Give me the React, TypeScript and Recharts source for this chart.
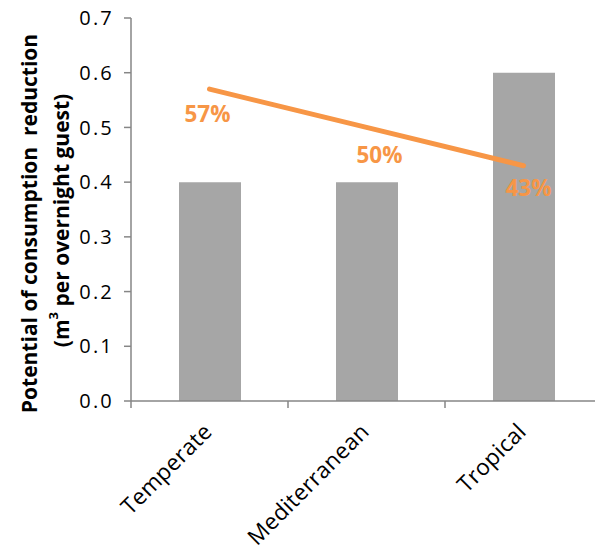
import React from 'react';
import { ComposedChart, Bar, Line, XAxis, YAxis, LabelList } from 'recharts';

const categories = ['Temperate', 'Mediterranean', 'Tropical'];
const potentialValues = [0.4, 0.4, 0.6];
const reductionShares = [0.57, 0.5, 0.43];
const shareLabels = ['57%', '50%', '43%'];
const yTicks = [0, 0.1, 0.2, 0.3, 0.4, 0.5, 0.6, 0.7];
const yTitleLine1 = 'Potential of consumption  reduction';
const yTitleLine2a = '(m';
const yTitleLine2b = '3';
const yTitleLine2c = ' per overnight guest)';

const data = categories.map((name, i) => ({
  name,
  potential: potentialValues[i],
  share: reductionShares[i],
  label: shareLabels[i],
}));

// style constants
const AXIS = '#868686';
const BAR = '#A6A6A6';
const ORANGE = '#F79646';
const FONT = '"Open Sans", sans-serif';
const labelOffsets = [
  [-2, 24],
  [13, 27],
  [5, 22],
];

const XTick = (props: any) => {
  const { x, y, payload, index, visibleTicksCount } = props;
  const off = payload && payload.offset ? payload.offset : 0;
  const isLast = index === (visibleTicksCount ?? 3) - 1;
  const tx = x + 4;
  const ty = y + 32;
  return (
    <g>
      <line x1={x - off} y1={y} x2={x - off} y2={y + 7} stroke={AXIS} strokeWidth={1.5} />
      {isLast && <line x1={x + off} y1={y} x2={x + off} y2={y + 7} stroke={AXIS} strokeWidth={1.5} />}
      <text
        x={tx}
        y={ty}
        transform={`rotate(-45, ${tx}, ${ty})`}
        textAnchor="end"
        fontFamily={FONT}
        fontSize={22.5}
        letterSpacing={0.3}
        fill="#000"
      >
        {payload.value}
      </text>
    </g>
  );
};

const ShareLabel = (props: any) => {
  const { x, y, value, index } = props;
  const o = labelOffsets[index] || [0, 24];
  return (
    <text
      x={x + o[0]}
      y={y + o[1]}
      textAnchor="middle"
      dominantBaseline="central"
      fontFamily={FONT}
      fontWeight="bold"
      fontSize={22.5}
      fill={ORANGE}
    >
      {value}
    </text>
  );
};

const YTitle = (props: any) => {
  const vb = props.viewBox || { x: 0, y: 18, width: 131, height: 383 };
  const mid = vb.y + vb.height / 2;
  const cy1 = mid + 14;
  const cy2 = mid + 11;
  const x1 = vb.x + 29;
  const x2 = vb.x + 61;
  return (
    <g>
      <text
        x={x1}
        y={cy1}
        transform={`rotate(-90, ${x1}, ${cy1})`}
        textAnchor="middle"
        dominantBaseline="central"
        fontFamily={FONT}
        fontWeight="bold"
        fontSize={21}
        fill="#000"
        style={{ whiteSpace: 'pre' }}
      >
        {yTitleLine1}
      </text>
      <text
        x={x2}
        y={cy2}
        transform={`rotate(-90, ${x2}, ${cy2})`}
        textAnchor="middle"
        dominantBaseline="central"
        fontFamily={FONT}
        fontWeight="bold"
        fontSize={21}
        fill="#000"
        style={{ whiteSpace: 'pre' }}
      >
        <tspan>{yTitleLine2a}</tspan>
        <tspan fontSize={13} dy={-8}>{yTitleLine2b}</tspan>
        <tspan dy={8}>{yTitleLine2c}</tspan>
      </text>
    </g>
  );
};

export default function App() {
  return (
    <div
      style={{
        position: 'absolute',
        left: 0,
        top: 0,
        width: 595,
        height: 551,
        overflow: 'hidden',
        background: '#fff',
      }}
    >
      <ComposedChart
        width={620}
        height={551}
        data={data}
        margin={{ top: 18, right: 18, left: 0, bottom: 0 }}
        barCategoryGap={0}
      >
        <XAxis
          dataKey="name"
          type="category"
          height={150}
          axisLine={{ stroke: AXIS, strokeWidth: 1.5 }}
          tickLine={false}
          tickSize={0}
          tickMargin={0}
          interval={0}
          tick={<XTick />}
        />
        <YAxis
          type="number"
          width={131}
          domain={[0, 0.7]}
          ticks={yTicks}
          interval={0}
          tickFormatter={(v: number) => v.toFixed(1)}
          axisLine={{ stroke: AXIS, strokeWidth: 1.5 }}
          tickLine={{ stroke: AXIS, strokeWidth: 1.5 }}
          tickSize={7}
          tickMargin={10}
          tick={{ fill: '#000', fontSize: 20, fontFamily: FONT, letterSpacing: 2.2 }}
          label={<YTitle />}
        />
        <Bar dataKey="potential" fill={BAR} barSize={62} isAnimationActive={false} />
        <Line
          dataKey="share"
          stroke={ORANGE}
          strokeWidth={5}
          strokeLinecap="round"
          dot={false}
          activeDot={false}
          isAnimationActive={false}
        >
          <LabelList dataKey="label" content={<ShareLabel />} />
        </Line>
      </ComposedChart>
    </div>
  );
}
